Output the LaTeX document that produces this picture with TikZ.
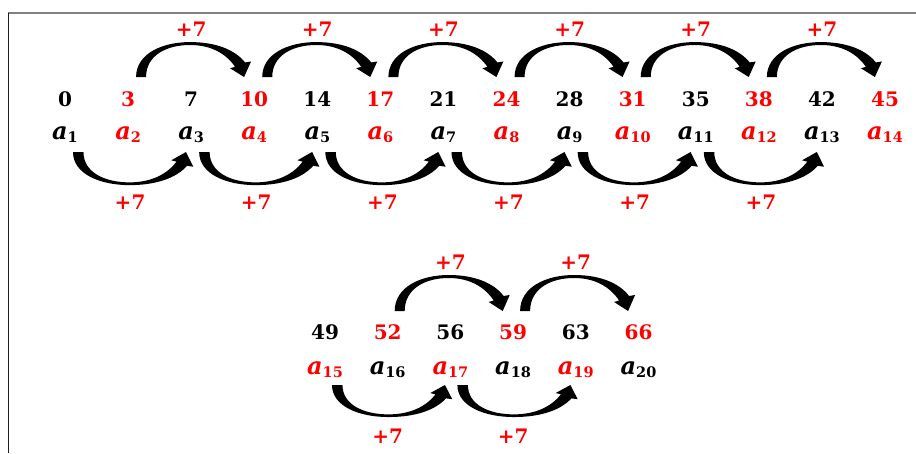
\documentclass[tikz,border=0pt]{standalone}
\usepackage{fontspec}
\setmainfont{DejaVu Serif}
\usetikzlibrary{calc}
\tikzset{
  num/.style={anchor=base, inner sep=0pt, font=\fontsize{20}{20}\selectfont\bfseries},
  lab/.style={anchor=base, inner sep=0pt},
  plus/.style={anchor=base, inner sep=0pt, text=red, font=\fontsize{20}{20}\selectfont\bfseries},
  arrowfill/.style={fill=black},
  frametop/.style={draw=black!50, line width=1.6pt},
  frameleft/.style={draw=black!88, line width=1.6pt},
}
\newcommand\lab[1]{{\fontsize{24}{24}\selectfont\bfseries\itshape a}\raisebox{-3pt}{\fontsize{14.5}{15}\selectfont\bfseries #1}}
\newcommand\arcshape{(0,0) .. controls (0,-24) and (26,-36) .. (54,-36) .. controls (80,-36) and (99,-28) .. (109,-15) -- (115,-16) -- (108,0) -- (94,-9) -- (99,-10.5) .. controls (90,-24) and (75,-33) .. (54,-33) .. controls (30,-33) and (10,-22) .. (10,0) -- cycle}
\begin{document}
\begin{tikzpicture}[x=1pt,y=-1pt]
\useasboundingbox (0,0) rectangle (916,453);
\fill[white] (0,0) rectangle (916,453);
% frame
\draw[frametop] (8,13) -- (916,13);
\draw[frameleft] (8.5,12.5) -- (8.5,453);
% group 1
\foreach \v/\c [count=\k] in {0/black,3/red,7/black,10/red,14/black,17/red,21/black,24/red,28/black,31/red,35/black,38/red,42/black,45/red}{
  \node[num,text=\c] (n\k) at ({65+63.08*(\k-1)},106) {\v};
  \node[lab,text=\c] (l\k) at ({65+63.08*(\k-1)},139) {\lab{\k}};
}
% group 2
\foreach \v/\c/\d [count=\k] in {49/black/red,52/red/black,56/black/red,59/red/black,63/black/red,66/red/black}{
  \pgfmathtruncatemacro\idx{\k+14}
  \node[num,text=\c] (m\k) at ({325+62.7*(\k-1)},339) {\v};
  \node[lab,text=\d] (q\k) at ({325+62.7*(\k-1)},374) {\lab{\idx}};
}
% group 1 top arrows
\foreach \i in {2,4,...,12}{
  \pgfmathtruncatemacro\j{\i+1}
  \begin{scope}[shift={(n\i.base)},shift={(8,-29)},yscale=0.97]
    \fill[arrowfill] \arcshape;
  \end{scope}
  \node[plus] (pt\i) at (n\j.base |- 0,36) {+7};
}
% group 1 bottom arrows
\foreach \i in {1,3,...,11}{
  \pgfmathtruncatemacro\j{\i+1}
  \begin{scope}[shift={(l\i.base)},shift={(8,13)},xscale=1.046,yscale=-0.92]
    \fill[arrowfill] \arcshape;
  \end{scope}
  \node[plus] (pb\i) at ($(l\j.base |- 0,209)+(2,0)$) {+7};
}
% group 2 top arrows
\foreach \i in {2,4}{
  \pgfmathtruncatemacro\j{\i+1}
  \begin{scope}[shift={(m\i.base)},shift={(7,-28)}]
    \fill[arrowfill] \arcshape;
  \end{scope}
  \node[plus] (qt\i) at (m\j.base |- 0,269) {+7};
}
% group 2 bottom arrows
\foreach \i in {1,3}{
  \pgfmathtruncatemacro\j{\i+1}
  \begin{scope}[shift={(q\i.base)},shift={(7,11)},xscale=1.046,yscale=-0.89]
    \fill[arrowfill] \arcshape;
  \end{scope}
  \node[plus] (qb\i) at (q\j.base |- 0,443) {+7};
}
\end{tikzpicture}
\end{document}
